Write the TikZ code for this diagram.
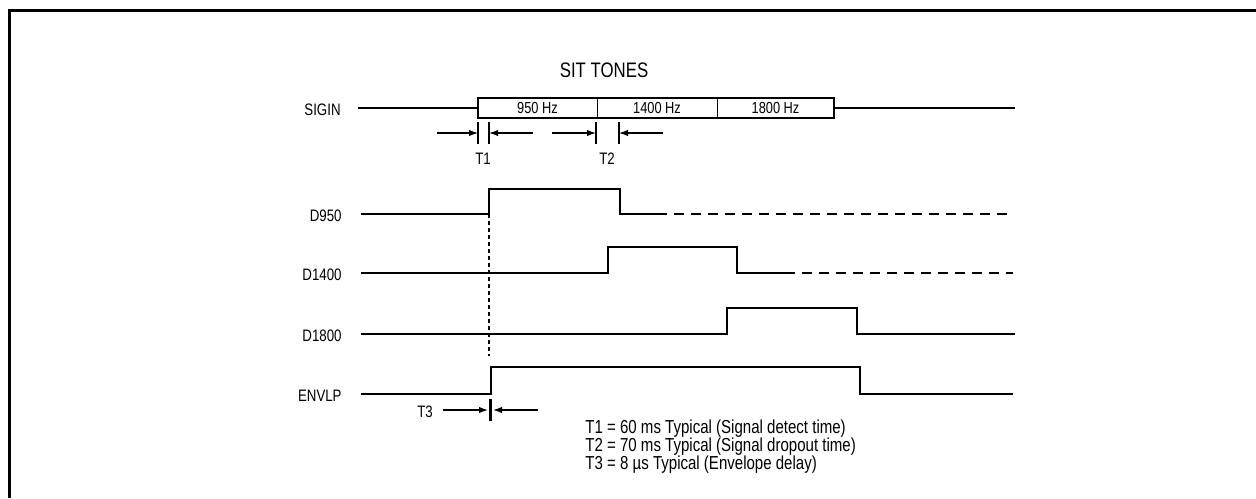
\documentclass[tikz,border=0pt]{standalone}
\usepackage{fontspec}
\setmainfont{Liberation Sans}[FakeStretch=0.8]
\usepackage{tikz}
\usetikzlibrary{positioning,arrows.meta}

\tikzset{
  lbl/.style={inner sep=0pt, font=\fontsize{8.3}{10}\selectfont},
  sig/.style={line width=1pt},
  seg/.style={anchor=west, minimum height=10pt, inner sep=0pt, outer sep=0pt,
              font=\fontsize{8}{10}\selectfont},
  tick/.style={line width=0.6pt},
  dim/.style={-{Latex[length=4.5pt,width=3.2pt]}, line width=0.6pt},
}

\begin{document}
\begin{tikzpicture}[x=0.5pt,y=-0.5pt]
\useasboundingbox (0,0) rectangle (1256,498);
\draw[line width=1.5pt] (9,498) -- (9,10) -- (1256,10);

\node[inner sep=0pt, font=\fontsize{10.5}{12}\selectfont] (title) at (604,70) {SIT TONES};

% signal names
\node[lbl, anchor=east] (sigin) at (341,110) {SIGIN};
\node[lbl, anchor=east] (d950)  at (342,216) {D950};
\node[lbl, anchor=east] (d1400) at (342,275) {D1400};
\node[lbl, anchor=east] (d1800) at (342,336) {D1800};
\node[lbl, anchor=east] (envlp) at (342,396) {ENVLP};

% SIGIN
\node[seg, minimum width=59.5pt] (f950) at (478,108) {950 Hz};
\node[seg, minimum width=60pt] (f1400) at (f950.east) {1400 Hz};
\node[seg, minimum width=58.5pt] (f1800) at (f1400.east) {1800 Hz};
\draw[sig] (f950.north west) rectangle (f1800.south east);
\draw[line width=0.5pt] (f950.north east) -- (f950.south east);
\draw[line width=0.5pt] (f1400.north east) -- (f1400.south east);
\draw[sig] (358,108) -- (f950.west);
\draw[sig] (f1800.east) -- (1015,108);

% T1 and T2
\coordinate (t1a) at (478,133);
\coordinate (t1b) at (489,133);
\coordinate (t2a) at (596,133);
\coordinate (t2b) at (619,133);
\draw[tick] (478,122) -- (478,144);
\draw[tick] (489,122) -- (489,144);
\draw[tick] (596,122) -- (596,144);
\draw[tick] (619,122) -- (619,144);
\draw[dim] (437,133) -- (t1a);
\draw[dim] (533,133) -- (t1b);
\draw[dim] (552,133) -- (t2a);
\draw[dim] (663,133) -- (t2b);
\node[lbl] (t1) at (483,159) {T1};
\node[lbl] (t2) at (607,159) {T2};

% detector outputs
\draw[sig] (361,214) -- (489,214) -- (489,189) -- (620,189) -- (620,214) -- (657,214);
\draw[sig, dash pattern=on 5pt off 3.5pt] (657,214) -- (1013,214);
\draw[sig] (361,273) -- (608,273) -- (608,247) -- (737,247) -- (737,273) -- (785,273);
\draw[sig, dash pattern=on 5pt off 3.5pt] (785,273) -- (1013,273);
\draw[sig] (361,334) -- (727,334) -- (727,308) -- (857,308) -- (857,334) -- (1015,334);
\draw[sig, line width=1.2pt] (361,394) -- (491,394) -- (491,367) -- (860,367) -- (860,394) -- (1013,394);
\draw[line width=0.7pt, dash pattern=on 2pt off 1.5pt] (489,214) -- (489,356);

% T3
\coordinate (t3a) at (488,410);
\coordinate (t3b) at (493,410);
\draw[line width=1.4pt] (490.5,399) -- (490.5,421);
\draw[dim] (443,410) -- (t3a);
\draw[dim] (538,410) -- (t3b);
\node[lbl] (t3) at (425,412) {T3};

% timing notes
\node[inner sep=0pt, anchor=west, font=\fontsize{9.4}{11}\selectfont] (n1) at (585,429) {T1 = 60 ms Typical (Signal detect time)};
\node[inner sep=0pt, anchor=west, font=\fontsize{9.4}{11}\selectfont] (n2) at (585,447) {T2 = 70 ms Typical (Signal dropout time)};
\node[inner sep=0pt, anchor=west, font=\fontsize{9.4}{11}\selectfont] (n3) at (585,465) {T3 = 8 µs Typical (Envelope delay)};
\end{tikzpicture}
\end{document}
